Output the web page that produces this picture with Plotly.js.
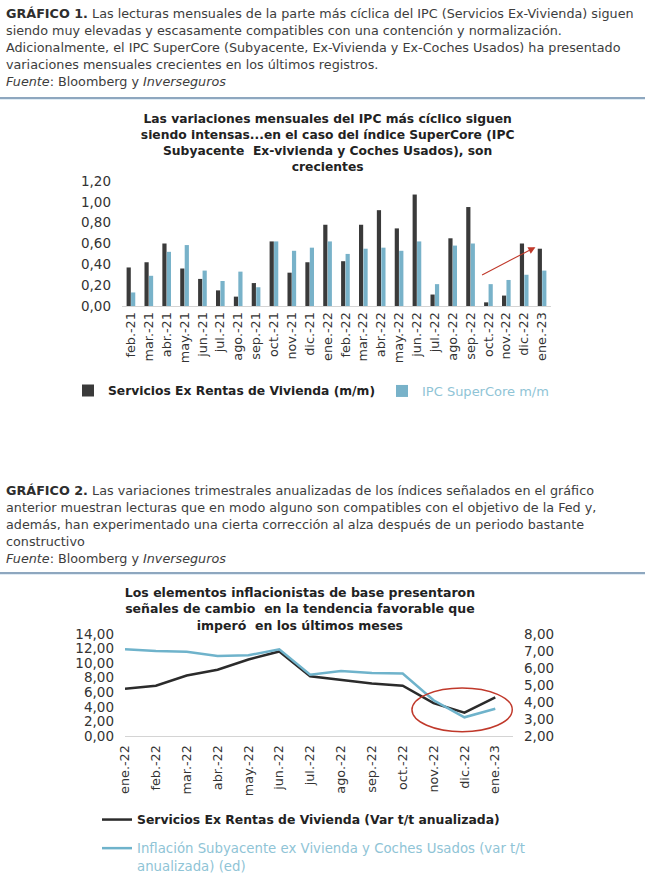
<!DOCTYPE html>
<html>
<head>
<meta charset="utf-8">
<script src="https://cdn.plot.ly/plotly-3.0.1.min.js"></script>
<style>
  html, body { margin:0; padding:0; background:#fff; }
  body { width:645px; height:884px; position:relative; overflow:hidden; font-family:"DejaVu Sans", sans-serif; }
  .hdr { position:absolute; left:6px; font-size:12.75px; line-height:17px; color:#3d3d3d; white-space:nowrap; }
  .hdr b { color:#2e2e2e; }
  .rule { position:absolute; left:0; width:645px; height:2px; background:#8ea7bf; }
  .band { position:absolute; left:0; width:645px; height:4px; background:linear-gradient(#dce9f3,#ffffff); }
  #c1 { position:absolute; left:0; top:100px; width:645px; height:312px; }
  #c2 { position:absolute; left:0; top:575px; width:645px; height:309px; }
</style>
</head>
<body>
<div class="hdr" style="top:5px;">
<b>GRÁFICO 1.</b> Las lecturas mensuales de la parte más cíclica del IPC (Servicios Ex-Vivienda) siguen<br>
siendo muy elevadas y escasamente compatibles con una contención y normalización.<br>
Adicionalmente, el IPC SuperCore (Subyacente, Ex-Vivienda y Ex-Coches Usados) ha presentado<br>
variaciones mensuales crecientes en los últimos registros.<br>
<i>Fuente</i>: Bloomberg y <i>Inverseguros</i>
</div>
<div class="rule" style="top:97px;"></div>
<div class="band" style="top:99px;"></div>

<div class="hdr" style="top:482px;">
<b>GRÁFICO 2.</b> Las variaciones trimestrales anualizadas de los índices señalados en el gráfico<br>
anterior muestran lecturas que en modo alguno son compatibles con el objetivo de la Fed y,<br>
además, han experimentado una cierta corrección al alza después de un periodo bastante<br>
constructivo<br>
<i>Fuente</i>: Bloomberg y <i>Inverseguros</i>
</div>
<div class="rule" style="top:572px;"></div>
<div class="band" style="top:574px;"></div>

<div id="c1"></div>
<div id="c2"></div>

<script>
// ---- Chart 1 data ----
const months1 = ["feb.-21","mar.-21","abr.-21","may.-21","jun.-21","jul.-21","ago.-21","sep.-21","oct.-21","nov.-21","dic.-21",
                 "ene.-22","feb.-22","mar.-22","abr.-22","may.-22","jun.-22","jul.-22","ago.-22","sep.-22","oct.-22","nov.-22","dic.-22","ene.-23"];
const serviciosMM = [0.37,0.42,0.60,0.36,0.26,0.15,0.09,0.22,0.62,0.32,0.42,
                     0.78,0.43,0.78,0.92,0.745,1.07,0.11,0.65,0.95,0.035,0.10,0.60,0.55];
const superCoreMM = [0.13,0.29,0.52,0.585,0.34,0.24,0.33,0.18,0.62,0.53,0.56,
                     0.62,0.50,0.55,0.56,0.53,0.62,0.21,0.58,0.60,0.21,0.25,0.30,0.34];

// ---- Chart 2 data ----
const months2 = ["ene.-22","feb.-22","mar.-22","abr.-22","may.-22","jun.-22","jul.-22","ago.-22","sep.-22","oct.-22","nov.-22","dic.-22","ene.-23"];
const serviciosTT = [6.5,6.9,8.3,9.1,10.5,11.6,8.2,7.7,7.2,6.9,4.5,3.2,5.3];
const subyacenteTT = [7.11,7.0,6.95,6.7,6.75,7.1,5.6,5.83,5.7,5.67,4.1,3.1,3.6];

const FONT = "DejaVu Sans, sans-serif";
const DARK = "#3a3a3a";
const BLUE = "#78b2c9";
const LBLUE = "#8fc4d6";
const RED = "#c0392b";

const layout1 = {
  width:645, height:312,
  margin:{l:122, r:94, t:81, b:106},
  paper_bgcolor:"#fff", plot_bgcolor:"#fff",
  separators:",.",
  font:{family:FONT, color:"#333", size:13},
  title:{
    text:"<b>Las variaciones mensuales del IPC más cíclico siguen<br>siendo intensas...en el caso del índice SuperCore (IPC<br>Subyacente  Ex-vivienda y Coches Usados), son<br>crecientes</b>",
    font:{family:FONT, size:12.3, color:"#222"},
    x:0.508, xref:"container", xanchor:"center",
    y:0.926, yref:"container", yanchor:"top"
  },
  bargap:0.5, bargroupgap:0.06,
  xaxis:{type:"category", tickangle:-90, showgrid:false, showline:true, linecolor:"#d4d4d4", linewidth:1,
         ticks:"", tickfont:{family:FONT, size:12.8, color:"#333"}, zeroline:false},
  yaxis:{range:[0,1.2], dtick:0.2, tickformat:".2f", showgrid:false, zeroline:false, showline:false,
         ticks:"", ticklabelstandoff:10, tickfont:{family:FONT, size:13.5, color:"#333"}},
  showlegend:true,
  legend:{orientation:"h", xref:"container", yref:"container", x:68/645, y:1-276/312, yanchor:"top", xanchor:"left",
          font:{family:FONT, size:12.3, color:"#222"}, itemwidth:30},
  legend2:{orientation:"h", xref:"container", yref:"container", x:382/645, y:1-276/312, yanchor:"top", xanchor:"left",
          font:{family:FONT, size:13, color:LBLUE}, itemwidth:30},
  annotations:[{
    x:22.63, y:0.565, xref:"x", yref:"y",
    ax:19.56, ay:0.29, axref:"x", ayref:"y",
    showarrow:true, arrowhead:2, arrowsize:1.3, arrowwidth:1.1, arrowcolor:RED, text:""
  }]
};

const data1 = [
  {type:"bar", x:months1, y:serviciosMM, name:"<b>Servicios Ex Rentas de Vivienda (m/m)</b>", marker:{color:DARK}, legend:"legend"},
  {type:"bar", x:months1, y:superCoreMM, name:"IPC SuperCore m/m", marker:{color:BLUE}, legend:"legend2"}
];

Plotly.newPlot("c1", data1, layout1, {staticPlot:true, displayModeBar:false});

const layout2 = {
  width:645, height:309,
  margin:{l:125, r:132, t:59, b:148},
  paper_bgcolor:"#fff", plot_bgcolor:"#fff",
  separators:",.",
  font:{family:FONT, color:"#333", size:13},
  title:{
    text:"<b>Los elementos inflacionistas de base presentaron<br>señales de cambio  en la tendencia favorable que<br>imperó  en los últimos meses</b>",
    font:{family:FONT, size:12.5, color:"#222"},
    x:0.465, xref:"container", xanchor:"center",
    y:1-22/309, yref:"container", yanchor:"top"
  },
  xaxis:{type:"category", tickangle:-90, showgrid:false, showline:true, linecolor:"#d4d4d4", linewidth:1,
         ticks:"", ticklabelstandoff:3, tickfont:{family:FONT, size:12.8, color:"#333"}, zeroline:false},
  yaxis:{range:[0,14], dtick:2, tickformat:".2f", showgrid:false, zeroline:false, showline:false,
         ticks:"", ticklabelstandoff:10, tickfont:{family:FONT, size:13.5, color:"#333"}},
  yaxis2:{range:[2,8], dtick:1, tickformat:".2f", overlaying:"y", side:"right", showgrid:false, zeroline:false, showline:false,
         ticks:"", ticklabelstandoff:10, tickfont:{family:FONT, size:13.5, color:"#333"}},
  showlegend:true,
  legend:{orientation:"h", xref:"container", yref:"container", x:97/645, y:1-230/309, yanchor:"top", xanchor:"left",
          font:{family:FONT, size:12.4, color:"#222"}},
  legend2:{orientation:"h", xref:"container", yref:"container", x:97/645, y:1-258/309, yanchor:"top", xanchor:"left",
          font:{family:FONT, size:13.3, color:LBLUE}, valign:"top"},
  shapes:[{type:"circle", xref:"x", yref:"y", x0:9.3, x1:12.55, y0:0.6, y1:6.6,
           line:{color:RED, width:1.5}}]
};

const data2 = [
  {type:"scatter", mode:"lines", x:months2, y:serviciosTT, yaxis:"y", legend:"legend",
   name:"<b>Servicios Ex Rentas de Vivienda (Var t/t anualizada)</b>", line:{color:"#2b2b2b", width:2.5}},
  {type:"scatter", mode:"lines", x:months2, y:subyacenteTT, yaxis:"y2", legend:"legend2",
   name:"Inflación Subyacente ex Vivienda y Coches Usados (var t/t<br>anualizada) (ed)", line:{color:"#6fb3cb", width:2.5}}
];

Plotly.newPlot("c2", data2, layout2, {staticPlot:true, displayModeBar:false});
</script>
</body>
</html>
